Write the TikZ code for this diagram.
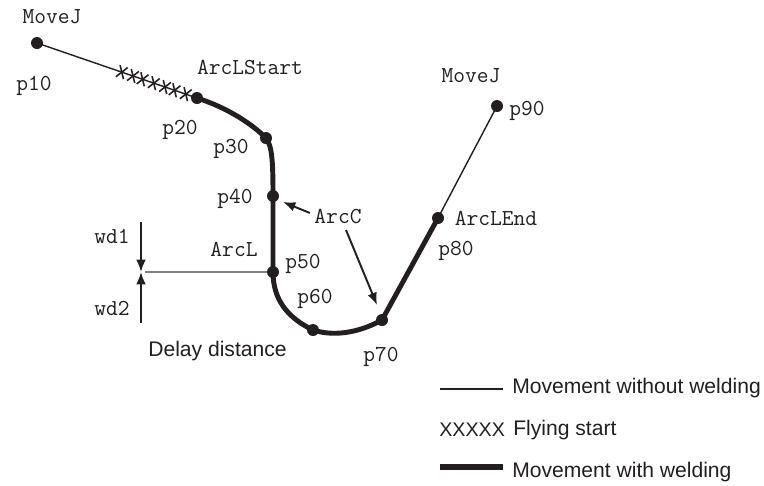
\documentclass[tikz,border=0pt]{standalone}
\usepackage{fontspec}
\setmainfont{Liberation Sans}
\usepackage{xcolor}
\usetikzlibrary{calc,arrows.meta}
\definecolor{ink}{HTML}{231F20}
\tikzset{
  lbl/.style={font=\ttfamily\fontsize{13}{15}\selectfont, text=ink, inner sep=0pt},
  txt/.style={font=\fontsize{12}{14}\selectfont, text=ink, inner sep=0pt, anchor=base west},
  weld/.style={line width=2.8pt, draw=ink},
  nonweld/.style={line width=0.8pt, draw=ink},
  pt/.style={fill=ink},
  arr/.style={-{Latex[length=7pt,width=5.5pt]}, line width=1.1pt, draw=ink},
}

\begin{document}
\begin{tikzpicture}[x=0.02cm, y=-0.02cm]%
\useasboundingbox (0,0) rectangle (764,485);%
% points of the path
\coordinate (p10) at (37,43);%
\coordinate (p20) at (197,98);%
\coordinate (p30) at (266,138);%
\coordinate (p40) at (273,196);%
\coordinate (p50) at (273,272);%
\coordinate (p60) at (313,330);%
\coordinate (p70) at (382,320);%
\coordinate (p80) at (438,218);%
\coordinate (p90) at (497,106);%
% movement without welding
\draw[nonweld] (p10) -- (p20);%
\draw[nonweld] (p80) -- (p90);%
% flying start
\foreach \t in {0.53,0.6,0.66,0.73,0.8,0.86,0.93} {%
  \coordinate (fs) at ($(p10)!\t!(p20)$);%
  \draw[ink, line width=0.9pt] ($(fs)+(-1.7,-7)$) -- ($(fs)+(1.7,7)$);%
  \draw[ink, line width=0.9pt] ($(fs)+(-5.9,4.6)$) -- ($(fs)+(5.9,-4.6)$);%
}%
% movement with welding
\draw[weld, line join=round] (p20) .. controls (228,108) and (252,124) .. (p30)
  .. controls (272,146) and (273,160) .. (p40) -- (p50)
  .. controls (273,300) and (288,318) .. (p60)
  .. controls (338,338) and (364,330) .. (p70) -- (p80);%
% delay distance
\coordinate (wd) at (141,272);%
\draw[line width=0.6pt, draw=gray] (145,272) -- (p50);%
\draw[arr] (141,222) -- (wd);%
\draw[arr] (141,323) -- (wd);%
% dots
\foreach \p in {p10,p20,p30,p40,p50,p60,p70,p80,p90} {%
  \fill[pt] (\p) circle (6);%
}%
% labels
\node[lbl] (movej1) at (52,17) {MoveJ};%
\node[lbl] (l10) at (34,86) {p10};%
\node[lbl] (start) at (250,67) {ArcLStart};%
\node[lbl] (l20) at (180,130) {p20};%
\node[lbl] (l30) at (231,149) {p30};%
\node[lbl] (l40) at (235,199) {p40};%
\node[lbl] (arcc) at (338,216) {ArcC};%
\node[lbl] (arcl) at (234,249) {ArcL};%
\node[lbl] (l50) at (303,264) {p50};%
\node[lbl] (l60) at (315,299) {p60};%
\node[lbl] (l70) at (381,357) {p70};%
\node[lbl] (movej2) at (471,76) {MoveJ};%
\node[lbl] (l90) at (527,111) {p90};%
\node[lbl] (end) at (496,218) {ArcLEnd};%
\node[lbl] (l80) at (456,251) {p80};%
\node[lbl] (wd1) at (112,236) {wd1};%
\node[lbl] (wd2) at (112,308) {wd2};%
\node[txt, anchor=west] (delay) at (148,351) {Delay distance};%
% ArcC arrows
\draw[arr] (310,213) -- ($(p40)+(10,6)$);%
\draw[arr] (346,230) -- ($(p70)+(-5,-15)$);%
% legend
\draw[nonweld] (440,389) -- (503,389);%
\node[txt] (leg1) at (512,393) {Movement without welding};%
\node[txt, font=\fontsize{11.2}{13}\selectfont] (legx) at (439,436) {XXXXX};%
\node[txt] (leg2) at (513,435) {Flying start};%
\draw[line width=3pt, draw=ink] (440,467) -- (503,467);%
\node[txt] (leg3) at (512,477) {Movement with welding};%
\end{tikzpicture}
\end{document}
